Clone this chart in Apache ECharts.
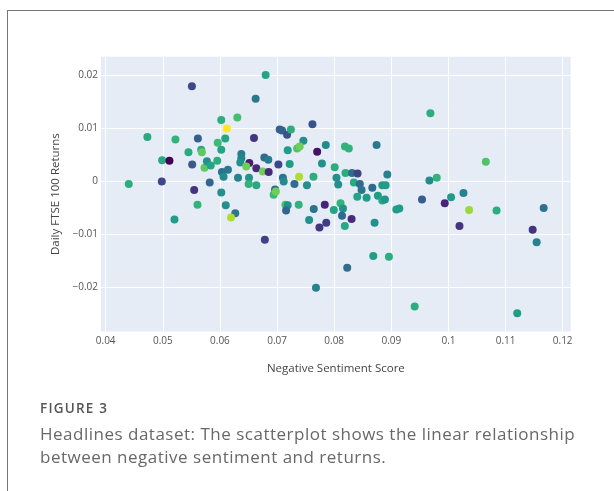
<!DOCTYPE html>
<html>
<head>
<meta charset="utf-8">
<script src="https://cdn.jsdelivr.net/npm/echarts@6/dist/echarts.min.js"></script>
<style>
  html, body { margin:0; padding:0; width:614px; height:491px; overflow:hidden; background:#fff; }
  #frame { position:absolute; left:7px; top:10px; width:700px; height:600px; border:1px solid #777; box-sizing:border-box; }
  #chart { position:absolute; left:0; top:0; width:614px; height:491px; }
  #figlabel { position:absolute; left:40px; top:399px; font-family:"Open Sans", sans-serif; font-weight:600; font-size:13.5px; color:#555; letter-spacing:1.2px; }
  #caption { position:absolute; left:40px; top:422px; width:574px; white-space:nowrap; font-family:"Open Sans", sans-serif; font-size:17px; line-height:23px; color:#686868; letter-spacing:0.5px; }
</style>
</head>
<body>
<div id="frame"></div>
<div id="chart"></div>
<div id="figlabel">FIGURE 3</div>
<div id="caption">Headlines dataset: The scatterplot shows the linear relationship<br>between negative sentiment and returns.</div>
<script>
// Negative sentiment score (x)
const sentiment = [
  0.04404,0.04982,0.0473,0.04988,0.05116,0.05221,0.05204,0.05509,0.05514,0.05449,
  0.05549,0.05607,0.05614,0.05672,0.05684,0.0573,0.05772,0.05839,0.05821,0.05953,
  0.05961,0.06023,0.06119,0.06093,0.06023,0.06304,0.06023,0.06102,0.06035,0.06063,
  0.0614,0.06268,0.06193,0.06316,0.06374,0.06374,0.06356,0.06514,0.06461,0.06509,
  0.06502,0.06637,0.06637,0.06596,0.06751,0.06853,0.06777,0.06847,0.068,0.06625,
  0.06786,0.06965,0.0694,0.06979,0.07023,0.07046,0.07088,0.07175,0.07242,0.07186,
  0.07221,0.07102,0.07116,0.07304,0.07386,0.07461,0.07351,0.07396,0.07523,0.07619,
  0.07637,0.07702,0.07146,0.07186,0.07158,0.07379,0.07642,0.07561,0.07742,0.07681,
  0.07786,0.07853,0.08009,0.08189,0.08256,0.0804,0.0807,0.08198,0.08312,0.08409,
  0.08344,0.08449,0.08479,0.08404,0.08567,0.08667,0.08742,0.0893,0.08842,0.089,
  0.08765,0.08842,0.08888,0.07835,0.07993,0.08111,0.08154,0.08137,0.08304,0.07861,
  0.08186,0.08707,0.09088,0.0914,0.09684,0.10654,0.09667,0.09795,0.09537,0.09935,
  0.10046,0.10263,0.10361,0.10842,0.11667,0.11474,0.11544,0.10193,0.08684,0.08958,
  0.08228,0.09409,0.11204
];
// Daily FTSE 100 returns (y)
const returns = [
  -0.0006,-0.0001,0.0083,0.0039,0.0038,0.0078,-0.0073,0.0179,0.0031,0.0054,
  -0.0017,-0.0045,0.008,0.0059,0.0054,0.0025,0.0037,0.0029,-0.0003,0.0038,
  0.0072,0.0115,0.0099,0.008,0.0059,0.012,-0.0022,-0.0046,0.0017,0.0008,
  0.0021,-0.0061,-0.0069,0.0006,0.0051,0.0043,0.0035,0.0034,0.0027,0.0006,
  -0.0006,-0.0008,0.0024,0.0081,0.0018,0.0017,0.0044,0.004,0.02,0.0155,
  -0.0111,-0.0016,-0.0026,-0.002,0.0031,0.0097,0.0095,0.0087,0.0097,0.0058,
  0.0032,0.0006,-0.0001,-0.0006,0.0008,0.0076,0.0061,0.0065,-0.0008,0.0107,
  0.0008,0.0055,-0.0045,-0.0046,-0.0056,-0.0045,-0.0053,-0.0074,-0.0088,-0.0202,
  0.0033,0.0068,0.0026,0.0065,0.0061,0.0006,-0.0007,0.0015,0.0015,0.0014,
  -0.0003,-0.0006,-0.0017,-0.003,-0.0032,-0.0013,0.0068,0.0012,-0.0008,-0.0008,
  -0.0028,-0.0037,-0.0035,-0.0045,-0.0055,-0.0042,-0.0052,-0.0066,-0.0072,-0.0079,
  -0.0085,-0.0079,-0.0054,-0.0052,0.0128,0.0036,0.0001,0.0006,-0.0035,-0.0042,
  -0.0031,-0.0023,-0.0055,-0.0056,-0.0051,-0.0092,-0.0116,-0.0085,-0.0142,-0.0143,
  -0.0164,-0.0237,-0.025
];
// Colour variable (0..1 on the viridis scale)
const colorValue = [
  .62,.22,.6,.6,0,.65,.55,.22,.28,.6,
  .15,.65,.3,.6,.75,.75,.5,.58,.33,.62,
  .68,.62,1,.58,.58,.7,.5,.5,.38,.48,
  .4,.4,.88,.45,.42,.45,.5,.08,.78,.52,
  .65,.6,.12,.15,.78,.12,.35,.42,.58,.4,
  .2,.35,.68,.78,.22,.3,.3,.25,.62,.55,
  .55,.38,.48,.35,.88,.5,.72,.78,.5,.25,
  .62,.05,.7,.5,.33,.65,.38,.5,.15,.45,
  .5,.48,.62,.65,.65,.5,.5,.62,.35,.2,
  .6,.35,.38,.58,.55,.35,.4,.45,.55,.55,
  .55,.6,.52,.1,.58,.65,.5,.35,.12,.18,
  .6,.5,.55,.55,.62,.72,.48,.65,.3,.1,
  .55,.45,.85,.62,.38,.15,.45,.15,.55,.62,
  .35,.62,.55
];
const xTicks = [0.04,0.05,0.06,0.07,0.08,0.09,0.1,0.11,0.12];
const yTicks = [-0.02,-0.01,0,0.01,0.02];
const viridis = ['#440154','#482878','#3e4989','#31688e','#26828e','#1f9e89','#35b779','#6ece58','#b5de2b','#fde725'];

const points = sentiment.map((x, i) => [x, returns[i], colorValue[i]]);
const fmt = v => (v < 0 ? '\u2212' + String(Math.abs(v)) : String(v));

const chart = echarts.init(document.getElementById('chart'), null, {renderer:'canvas'});
chart.setOption({
  animation: false,
  grid: { left: 101, right: 43.3, top: 56.7, bottom: 159.5, show: true, backgroundColor: '#E5ECF6', borderWidth: 0 },
  xAxis: {
    type: 'value', min: 0.03918, max: 0.1214,
    name: 'Negative Sentiment Score', nameLocation: 'middle', nameGap: 31,
    nameTextStyle: { fontFamily: 'Open Sans', fontSize: 11.5, color: '#444' },
    axisLine: { show: false },
    axisTick: { show: false, customValues: xTicks },
    axisLabel: { customValues: xTicks, formatter: fmt, fontFamily: 'Open Sans', fontSize: 10, color: '#555', margin: 5 },
    splitLine: { show: true, lineStyle: { color: '#fff', width: 1 } }
  },
  yAxis: {
    type: 'value', min: -0.02844, max: 0.02346,
    name: 'Daily FTSE 100 Returns', nameLocation: 'middle', nameGap: 32,
    nameTextStyle: { fontFamily: 'Open Sans', fontSize: 11.5, color: '#444' },
    axisLine: { show: false },
    axisTick: { show: false, customValues: yTicks },
    axisLabel: { customValues: yTicks, formatter: fmt, fontFamily: 'Open Sans', fontSize: 10, color: '#555', margin: 3 },
    splitLine: { show: true, lineStyle: { color: '#fff', width: 1 } }
  },
  visualMap: { show: false, type: 'continuous', dimension: 2, min: 0, max: 1, inRange: { color: viridis } },
  series: [{
    type: 'scatter', data: points, symbolSize: 8,
    itemStyle: { opacity: 1 }
  }]
});
</script>
</body>
</html>
